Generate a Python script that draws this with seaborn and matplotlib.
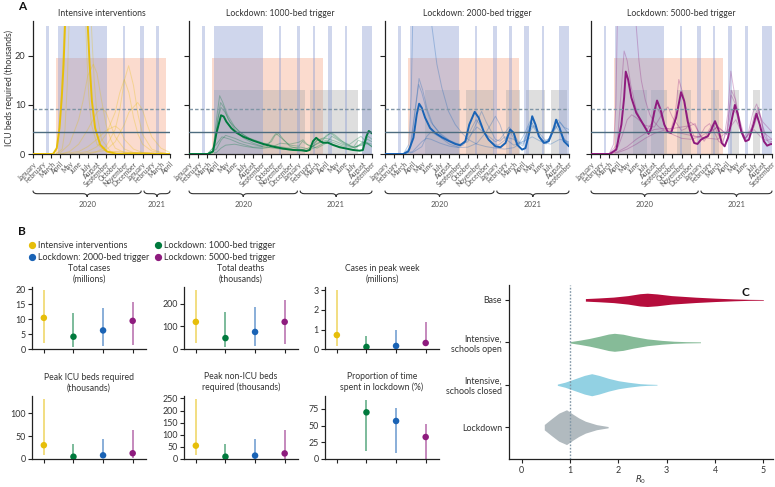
import numpy as np
import pandas as pd
import matplotlib
matplotlib.use("Agg")
import matplotlib.pyplot as plt
import matplotlib.transforms as mtransforms
from matplotlib.path import Path
from matplotlib.patches import PathPatch
from matplotlib.lines import Line2D
import seaborn as sns

sns.set_theme(style="ticks")
plt.rcParams['font.family'] = ['Lato', 'DejaVu Sans']
plt.rcParams['axes.linewidth'] = 0.9

# ------------------------------------------------------------------ DATA
MONTHS = ["January", "February", "March", "April", "May", "June", "July", "August",
          "September", "October", "November", "December"]
months_short_panel = MONTHS + MONTHS[:4]      # Jan 2020 - Apr 2021
months_long_panel = MONTHS + MONTHS[:9]       # Jan 2020 - Sep 2021

panel_titles = ["Intensive interventions", "Lockdown: 1000-bed trigger",
                "Lockdown: 2000-bed trigger", "Lockdown: 5000-bed trigger"]
scenario_colors = ["#e6be0a", "#007a3d", "#1a63b5", "#8e1b7e"]

# school holidays (months since Jan 2020)
holiday_start = [1.45, 2.7, 9.8, 11.75, 13.5, 15.15, 17.05, 18.95]
holiday_end = [1.7, 8.05, 10.05, 12.15, 13.75, 15.6, 17.3, 20.0]
holiday_height = 26.2
# social distancing period
distancing_start, distancing_end, distancing_height = 2.5, 14.6, 19.6
# lockdown periods per panel
lockdown_periods = [
    [],
    [(2.7, 12.68), (13.25, 18.45), (18.95, 20.0)],
    [(4.3, 8.1), (8.8, 11.9), (13.1, 14.65), (15.35, 17.35), (18.05, 19.75)],
    [(4.65, 6.2), (6.65, 8.35), (9.5, 11.0), (13.3, 14.15), (15.4, 16.3), (17.9, 18.65)],
]
lockdown_height = 12.95
icu_capacity_dashed = 9.1
icu_capacity_solid = 4.45

# bold (median) trajectories, ICU beds (thousands)
ii_bold_m = [0, 2.2, 2.6, 2.9, 3.15, 3.35, 3.5, 3.7, 4.0, 4.5, 5.0, 5.5, 5.8, 6.0, 6.2, 6.45, 6.8, 7.35, 8.1, 9.2, 15]
ii_bold_v = [0, 0, 1.2, 5.3, 11.5, 18.3, 26, 38, 55, 70, 66, 45, 32, 26, 18.3, 10.8, 5.3, 1.9, 0.5, 0, 0]

l1_bold_m = [0, 2.08, 2.62, 2.99, 3.28, 3.5, 3.79, 4.08, 4.63, 5.17, 5.9, 7.0, 8.09, 9.18, 10.27, 11.37,
             12.28, 12.82, 13.19, 13.55, 13.9, 14.28, 14.64, 15.2, 15.74, 16.47, 17.2, 17.92, 18.65, 19.0,
             19.38, 19.65, 20]
l1_bold_v = [0, 0, 0.5, 4.2, 6.3, 7.9, 7.65, 6.6, 5.26, 4.37, 3.55, 2.73, 2.05, 1.5, 1.1, 0.82,
             0.75, 0.6, 0.82, 2.6, 3.3, 2.7, 2.3, 2.3, 1.84, 1.37, 1.1, 0.82, 0.68, 0.8,
             3.55, 4.7, 4.2]

l2_bold_m = [0, 2.0, 2.55, 3.09, 3.45, 3.71, 4.0, 4.36, 4.9, 5.45, 6.18, 6.9, 7.64, 8.18, 8.73, 9.16, 9.75,
             10.18, 10.73, 11.27, 12.0, 12.55, 13.1, 13.6, 14.0, 14.36, 14.9, 15.27, 15.64, 16.0, 16.36,
             16.73, 17.27, 17.8, 18.36, 18.6, 18.98, 19.45, 20]
l2_bold_v = [0, 0, 0.55, 3.3, 8.06, 10.25, 9.4, 7.4, 5.3, 4.3, 3.4, 2.7, 2.05, 1.78, 2.6, 6.0, 8.6,
             7.4, 4.6, 2.9, 1.57, 1.37, 2.25, 5.0, 4.3, 1.9, 0.9, 1.2, 4.0, 7.7, 6.0,
             3.6, 2.25, 2.6, 5.3, 7.0, 5.3, 2.6, 1.57]

l5_bold_m = [0, 2.08, 2.8, 3.36, 3.66, 3.84, 4.1, 4.46, 5.0, 5.56, 6.1, 6.36, 6.65, 7.0, 7.3, 7.68, 8.1,
             8.48, 8.85, 9.4, 9.95, 10.3, 10.68, 11.04, 11.4, 11.77, 12.14, 12.5, 12.9, 13.3, 13.7, 14.08,
             14.44, 14.77, 15.14, 15.6, 15.9, 16.23, 16.6, 17.07, 17.44, 17.9, 18.28, 18.65, 19.1, 19.46,
             19.9, 20]
l5_bold_v = [0, 0, 0.9, 6.0, 11.5, 16.8, 15.2, 11.5, 8.4, 6.7, 5.0, 4.1, 5.3, 8.7, 10.9, 9.1, 6.0,
             4.5, 4.3, 7.4, 12.6, 10.8, 6.7, 4.0, 2.25, 2.05, 2.9, 3.3, 3.6, 5.0, 6.7, 5.0,
             2.25, 1.57, 3.3, 7.4, 10.0, 8.06, 4.6, 2.6, 2.9, 5.7, 8.2, 6.0, 2.6, 1.7,
             2.05, 2.0]

# faint individual simulation trajectories (month, value)
ii_thin = [
    ([2, 3, 4, 5, 5.5, 6, 6.6, 7, 7.5, 8, 8.5, 9, 10, 15], [0, 0.3, 2, 7, 11, 16, 18.3, 16.5, 11, 6, 3, 1.2, 0.3, 0]),
    ([5, 7, 8, 9, 9.5, 10, 10.47, 11, 11.5, 12, 13, 14, 15], [0, 0.5, 1.5, 5, 9, 15, 18, 14, 8, 4, 1, 0.3, 0]),
    ([4, 6, 7, 8, 9, 9.5, 10, 10.5, 11, 11.5, 12, 13, 15], [0, 0.5, 1.5, 4, 8.5, 12.5, 15.2, 12.5, 7.5, 4, 2, 0.6, 0]),
    ([6, 8, 9, 10, 10.5, 11.46, 12, 12.5, 13, 14, 15], [0, 0.8, 2.5, 6, 8.5, 10.5, 9, 6, 3.5, 1.2, 0.3]),
    ([3, 5, 6, 7, 8, 9, 9.5, 10, 11, 12, 15], [0, 0.5, 1.5, 3, 4.8, 5.7, 5, 3, 1, 0.3, 0]),
    ([3, 4, 5, 6, 7, 7.55, 8, 8.5, 9, 10, 11, 15], [0, 0.5, 2, 5, 8.5, 9.4, 8.5, 6, 3.5, 1, 0.3, 0]),
    ([2, 2.5, 2.8, 3.0, 3.2, 3.5, 4, 5, 5.5, 5.75, 5.9, 6.1, 6.4, 7, 8, 15],
     [0, 0.5, 3, 8, 16, 30, 55, 60, 40, 28, 20, 12, 6, 2, 0.5, 0]),
    ([2.5, 3.2, 3.5, 3.75, 3.9, 4.2, 5, 6, 6.3, 6.5, 6.7, 7.0, 7.5, 8.5, 15],
     [0, 1, 5, 14, 24, 40, 60, 45, 30, 22, 15, 8, 3, 0.5, 0]),
]
l1_thin = [
    ([2, 2.6, 3.0, 3.35, 3.7, 4.2, 5, 6, 7, 8, 9, 10, 11, 12, 13, 14, 15, 16, 17, 18, 19, 20],
     [0, 0.6, 7, 11.9, 10.5, 8, 5.5, 3.8, 2.8, 2.1, 1.6, 1.3, 1.0, 0.8, 0.7, 1.5, 2.5, 1.8, 1.2, 0.9, 2.5, 2.0]),
    ([2, 2.7, 3.1, 3.45, 3.8, 4.3, 5, 6, 7, 8, 9, 9.4, 9.8, 10.3, 11, 12, 13, 13.5, 14, 15, 15.5, 16, 17, 18, 19, 19.5, 20],
     [0, 0.8, 6.5, 10.5, 9.5, 7, 5, 3.2, 2.2, 1.6, 2.5, 3.8, 4.2, 3.0, 1.6, 1.0, 0.8, 1.5, 2.8, 3.5, 4.4, 3.8, 2.2, 1.3, 2.2, 3.0, 2.5]),
    ([2, 3, 3.5, 4, 5, 6, 7, 8, 9, 10, 11, 12, 12.46, 13, 14, 15, 15.6, 16, 17, 18, 18.5, 19, 20],
     [0, 0.3, 1.2, 1.8, 2, 1.6, 1.3, 1.1, 1.4, 2.2, 2.0, 2.4, 2.9, 1.8, 1.2, 2.2, 3.6, 3.2, 2.0, 1.5, 2.8, 2.4, 1.6]),
    ([2, 3, 3.6, 4.5, 5.5, 7, 8.5, 9.2, 9.5, 10, 11, 12, 12.4, 12.8, 13.5, 14.5, 15, 15.5, 16.5, 17.5, 18.3, 18.8, 19.5, 20],
     [0, 2, 3.5, 3.0, 2.2, 1.4, 1.4, 3.5, 4.2, 3.4, 1.8, 1.6, 2.6, 2.0, 1.6, 2.5, 3.8, 4.2, 2.8, 1.9, 3.0, 3.6, 2.2, 1.5]),
    ([2, 3, 3.5, 4, 5, 6, 8, 10, 12, 13, 14, 15, 16, 17, 18, 19, 19.5, 20],
     [0, 1, 2.8, 3.8, 3.2, 2.4, 1.5, 1.0, 0.7, 1.2, 2.8, 3.2, 2.6, 1.8, 1.4, 1.8, 2.2, 1.4]),
    ([2, 2.8, 3.2, 3.5, 3.9, 4.5, 5.5, 6.5, 8, 9.5, 11, 12.2, 13.2, 14, 15, 16, 17, 18, 19, 19.6, 20],
     [0, 1.5, 7.5, 9.5, 8.6, 6.5, 4.5, 3.3, 2.3, 1.6, 1.2, 1.4, 1.0, 2.2, 2.8, 2.2, 1.5, 1.3, 2.0, 3.6, 3.0]),
]
l2_thin = [
    ([2, 2.6, 2.85, 3.0, 3.3, 4, 5, 5.1, 5.64, 6.18, 6.9, 7.64, 8.36, 9.1, 10, 11, 12, 13, 14, 15, 16, 17, 18, 19, 20],
     [0, 2, 12, 26, 40, 50, 35, 26, 18.3, 13.5, 8.7, 6, 4.3, 2.9, 2.0, 1.5, 1.2, 1.0, 1.3, 2.5, 3.5, 2.5, 2.0, 3.0, 2.5]),
    ([2, 2.7, 3.2, 3.7, 4.1, 4.6, 5.2, 6, 7, 8, 8.6, 9.2, 9.9, 10.5, 11, 11.6, 12.3, 13, 13.6, 14.2, 15, 15.6, 16.2,
      16.8, 17.5, 18.2, 18.8, 19.4, 20],
     [0, 1, 8, 15.4, 13, 9, 6, 4.2, 2.8, 2.0, 2.2, 4.5, 7.0, 5.5, 3.5, 2.2, 1.8, 2.8, 4.5, 2.6, 1.6, 5.5, 6.5,
      3.5, 2.0, 4.5, 6.0, 3.2, 2.0]),
    ([2, 2.8, 3.3, 3.65, 4, 4.5, 5, 6, 7, 8, 9, 10, 10.5, 11, 12, 12.5, 13, 14, 14.5, 15, 15.8, 16.4, 17, 17.8, 18.4,
      19, 19.6, 20],
     [0, 1.5, 9, 14.2, 12.5, 9, 6.5, 4, 2.6, 1.8, 2.5, 6.5, 8.7, 6.5, 3, 2.6, 3.5, 3.0, 2.0, 3.5, 6.8, 5.0, 2.6, 3.0, 6.0,
      4.5, 2.8, 2.2]),
    ([2, 3, 3.5, 4, 4.5, 5, 6, 7, 8, 9, 10, 11, 11.5, 12, 12.5, 13, 14, 15, 15.5, 16, 17, 17.5, 18, 19, 20],
     [0, 0.5, 1.5, 2.5, 3.2, 3.0, 2.2, 1.6, 1.3, 1.4, 2.2, 4.5, 6.0, 7.7, 6.0, 3.2, 1.8, 2.6, 4.5, 5.8, 3.0, 2.2, 3.6, 6.5, 4.0]),
    ([2, 3, 4, 4.5, 5, 6, 7, 8, 8.5, 9, 10, 11, 12, 12.5, 13.5, 14.5, 15, 15.5, 16.2, 16.8, 17.5, 18, 18.8, 19.5, 20],
     [0, 0.3, 1.5, 3.5, 4.5, 3.4, 2.0, 1.4, 1.8, 3.2, 5.5, 4.0, 2.5, 3.0, 5.5, 2.5, 2.0, 4.0, 5.8, 4.2, 2.6, 3.4, 7.0, 5.4, 5.0]),
]
l5_thin = [
    ([2, 2.5, 2.75, 2.9, 3.2, 4, 4.8, 5.0, 5.3, 5.56, 6, 6.5, 7, 7.5, 8, 9, 10, 11, 12, 13, 14, 15, 16, 17, 18, 19, 20],
     [0, 2, 10, 26, 40, 50, 35, 26, 19, 15, 11, 8, 6.5, 5.5, 5, 4.5, 4.2, 3.8, 3.5, 3.2, 3.0, 4.5, 7, 3, 5, 3, 2.5]),
    ([2, 2.9, 3.3, 3.66, 4.0, 4.4, 5, 5.6, 6.2, 6.8, 7.2, 7.6, 8.2, 8.8, 9.3, 9.7, 10.2, 10.8, 11.4, 12, 12.6, 13.1,
      13.6, 14.1, 14.6, 15.1, 15.45, 15.8, 16.3, 16.8, 17.4, 17.9, 18.3, 18.7, 19.2, 19.7, 20],
     [0, 2, 12, 21, 19, 14, 9, 6.5, 5, 6.5, 9.5, 8.5, 5.5, 4.8, 8, 15.2, 12, 6.5, 3.5, 3.5, 5.5, 6.2,
      4.5, 2.6, 2.0, 8, 16.9, 13, 6.5, 3.4, 4.5, 8.5, 10.2, 8, 3.5, 2.2, 2.5]),
    ([2, 3, 3.5, 4, 4.5, 5, 6, 7, 8, 8.5, 9, 10, 10.5, 11, 11.5, 12, 12.5, 13, 13.5, 14, 14.5, 15, 15.5, 16, 16.5, 17,
      17.5, 18, 18.5, 19, 19.5, 20],
     [0, 1.5, 4, 7, 8, 7.4, 5.8, 5.5, 8.6, 9.6, 7.5, 4.8, 5.2, 6.5, 5.8, 4.0, 3.0, 4.8, 6.2, 4.2, 2.4, 4.5, 13, 11, 5.5, 3.2,
      4.2, 7.5, 9.5, 5.5, 3.0, 3.0]),
    ([2, 3, 4, 5, 6, 7, 8, 9, 10, 11, 11.5, 12, 12.5, 13, 14, 15, 15.5, 16, 17, 18, 18.5, 19, 20],
     [0, 0.5, 1.5, 3, 4.2, 5.0, 5.2, 5.2, 5.5, 5.8, 6.2, 4.0, 2.6, 4, 5.6, 4.0, 9, 8.5, 3.0, 6, 9, 4.5, 3.0]),
    ([2, 3, 4, 5, 6, 7, 8, 9, 10, 11, 12, 13, 14, 15, 15.5, 16, 17, 18, 18.5, 19, 20],
     [0, 0.3, 1, 2, 3.2, 4.2, 4.8, 4.0, 3.2, 3, 3.5, 4.5, 5.5, 4.0, 12, 10, 3.2, 5.5, 8.5, 6.5, 4.5]),
]

# Panel B summary (median, low, high) per scenario
scenario_labels = ["Intensive interventions", "Lockdown: 1000-bed trigger",
                   "Lockdown: 2000-bed trigger", "Lockdown: 5000-bed trigger"]
metric_titles = ["Total cases\n(millions)", "Total deaths\n(thousands)", "Cases in peak week\n(millions)",
                 "Peak ICU beds required\n(thousands)", "Peak non-ICU beds\nrequired (thousands)",
                 "Proportion of time\nspent in lockdown (%)"]
cases_med = [10.5, 4.2, 6.3, 9.5]
cases_lo = [2.0, 0.7, 1.1, 1.4]
cases_hi = [19.8, 12.0, 13.7, 15.8]
deaths_med = [120, 49, 76, 120]
deaths_lo = [26, 9, 13, 22]
deaths_hi = [260, 162, 187, 216]
peakweek_med = [0.72, 0.12, 0.17, 0.32]
peakweek_lo = [0.17, 0.0, 0.0, 0.17]
peakweek_hi = [3.0, 0.68, 0.98, 1.4]
icu_med = [30, 5, 8, 12.5]
icu_lo = [8.5, 0.5, 1.5, 2]
icu_hi = [130, 32.5, 43.5, 63]
nonicu_med = [55, 9.6, 14, 23]
nonicu_lo = [16, 0.5, 1, 2]
nonicu_hi = [246, 60, 82, 118]
lockdown_med = [np.nan, 70, 57, 33]
lockdown_lo = [np.nan, 12.5, 9.5, 0]
lockdown_hi = [np.nan, 89, 77, 52]
metric_ylims = [(0, 20.9), (0, 274), (0, 3.17), (0, 137), (0, 260), (0, 94.5)]
metric_yticks = [[0, 5, 10, 15, 20], [0, 100, 200], [0, 1, 2, 3], [0, 50, 100],
                 [0, 50, 100, 150, 200, 250], [0, 25, 50, 75]]

# Panel C: R0 violin outlines (R0 grid, half-width)
violin_labels = ["Base", "Intensive,\nschools open", "Intensive,\nschools closed", "Lockdown"]
violin_colors = ["#b50d3c", "#86bb98", "#92d1e3", "#b1babf"]
base_r = [1.32, 1.6, 1.9, 2.2, 2.45, 2.6, 2.8, 3.1, 3.6, 4.0, 4.4, 4.7, 5.0]
base_w = [0.03, 0.045, 0.065, 0.1, 0.145, 0.157, 0.14, 0.1, 0.063, 0.04, 0.022, 0.012, 0.008]
open_r = [1.0, 1.2, 1.4, 1.6, 1.8, 1.92, 2.1, 2.3, 2.6, 2.9, 3.15, 3.4, 3.7]
open_w = [0.015, 0.05, 0.09, 0.14, 0.195, 0.212, 0.19, 0.14, 0.08, 0.045, 0.025, 0.015, 0.01]
closed_r = [0.74, 0.9, 1.1, 1.3, 1.45, 1.6, 1.8, 2.0, 2.2, 2.45, 2.6, 2.8]
closed_w = [0.015, 0.06, 0.14, 0.22, 0.26, 0.22, 0.15, 0.095, 0.06, 0.025, 0.015, 0.008]
lock_r = [0.47, 0.62, 0.77, 0.93, 1.05, 1.18, 1.32, 1.55, 1.79]
lock_w = [0.063, 0.2, 0.33, 0.41, 0.315, 0.22, 0.14, 0.06, 0.015]

# ------------------------------------------------------------------ FIGURE
W, H = 775, 487
fig = plt.figure(figsize=(W / 100, H / 100), dpi=100)
TXT = "#333333"
SPINE = "#222222"


def add_ax(x0, y0, x1, y1):
    return fig.add_axes([x0 / W, 1 - y1 / H, (x1 - x0) / W, (y1 - y0) / H])


def brace(ax, x0, x1, y, h, d, label):
    trans = mtransforms.blended_transform_factory(ax.transData, ax.transAxes)
    xm = (x0 + x1) / 2
    verts = [(x0, y + h), (x0, y), (x0 + d, y), (xm - d, y), (xm, y), (xm, y - h),
             (xm, y), (xm + d, y), (x1 - d, y), (x1, y), (x1, y + h)]
    codes = [Path.MOVETO, Path.CURVE3, Path.CURVE3, Path.LINETO, Path.CURVE3, Path.CURVE3,
             Path.CURVE3, Path.CURVE3, Path.LINETO, Path.CURVE3, Path.CURVE3]
    ax.add_patch(PathPatch(Path(verts, codes), fill=False, lw=0.8, ec="#333333",
                           transform=trans, clip_on=False))
    ax.text(xm, y - 0.085, label, transform=trans, ha="center", va="center",
            fontsize=5.6, color="#555555")


# ---------------- Panel A
a_boxes = [(33, 26, 170, 154), (189, 26, 372, 154), (385, 26, 569, 154), (591, 26, 772, 154)]
bold_m = [ii_bold_m, l1_bold_m, l2_bold_m, l5_bold_m]
bold_v = [ii_bold_v, l1_bold_v, l2_bold_v, l5_bold_v]
thin_sets = [ii_thin, l1_thin, l2_thin, l5_thin]
for i in range(4):
    ax = add_ax(*a_boxes[i])
    labels = months_short_panel if i == 0 else months_long_panel
    nmax = len(labels) - 1
    ax.set_xlim(0, nmax)
    ax.set_ylim(0, 26.1)
    # shading
    ax.axvspan(distancing_start, distancing_end, ymin=0, ymax=distancing_height / 26.1,
               color="#f7a585", alpha=0.4, lw=0, zorder=0)
    for s, e in lockdown_periods[i]:
        ax.axvspan(s, e, ymin=0, ymax=lockdown_height / 26.1, color="#a3a3a3", alpha=0.35, lw=0, zorder=0.5)
    for s, e in zip(holiday_start, holiday_end):
        ax.axvspan(s, e, ymin=0, ymax=holiday_height / 26.1, color="#8e9fd3", alpha=0.42, lw=0, zorder=0.6)
    # thin trajectories
    for mm, vv in thin_sets[i]:
        sns.lineplot(x=mm, y=vv, ax=ax, color=scenario_colors[i], lw=0.7, alpha=0.3,
                     errorbar=None, zorder=2)
    sns.lineplot(x=bold_m[i], y=bold_v[i], ax=ax, color=scenario_colors[i], lw=1.4,
                 errorbar=None, zorder=3)
    ax.axhline(icu_capacity_dashed, color="#7f95a5", lw=1.0, ls=(0, (2.5, 1.5)), zorder=4)
    ax.axhline(icu_capacity_solid, color="#4d6c7f", lw=1.0, zorder=4)
    sns.despine(ax=ax)
    ax.spines['left'].set_bounds(0, 27.2)
    ax.spines['left'].set_color(SPINE)
    ax.spines['bottom'].set_color(SPINE)
    ax.set_xticks(range(len(labels)))
    ax.set_xticklabels(labels, rotation=45, ha="right", rotation_mode="anchor",
                       fontsize=4.9, color="#555555")
    ax.set_yticks([0, 10, 20])
    ax.tick_params(axis="x", length=3, width=0.8, pad=1.5, color=SPINE)
    ax.tick_params(axis="y", length=3.5, width=0.8, pad=2, color=SPINE, labelsize=6.6, labelcolor=TXT)
    if i > 0:
        ax.set_yticklabels([])
    ax.set_ylabel("")
    ax.set_title(panel_titles[i], fontsize=6.2, color=TXT, pad=7)
    ax.set_xlabel("")
    brace(ax, 0, 11.85, -0.31, 0.024, 0.45, "2020")
    brace(ax, 12.15, nmax, -0.31, 0.024, 0.45, "2021")

fig.text(9 / W, 1 - 88 / H, "ICU beds required (thousands)", rotation=90, ha="center", va="center",
         fontsize=6.3, color=TXT)

# ---------------- Panel B
b_lefts = [32, 184, 325]
b_rows = [(286.7, 349.3), (396, 459)]
meds = [cases_med, deaths_med, peakweek_med, icu_med, nonicu_med, lockdown_med]
los = [cases_lo, deaths_lo, peakweek_lo, icu_lo, nonicu_lo, lockdown_lo]
his = [cases_hi, deaths_hi, peakweek_hi, icu_hi, nonicu_hi, lockdown_hi]
for k in range(6):
    r, c = divmod(k, 3)
    x0 = b_lefts[c]
    ax = add_ax(x0, b_rows[r][0], x0 + 114, b_rows[r][1])
    df = pd.DataFrame({"idx": range(4), "med": meds[k], "lo": los[k], "hi": his[k],
                       "scenario": scenario_labels})
    df = df.dropna()
    ax.vlines(df["idx"], df["lo"], df["hi"], colors=[scenario_colors[j] for j in df["idx"]],
              lw=1.2, alpha=0.6, zorder=2)
    sns.scatterplot(data=df, x="idx", y="med", hue="scenario", hue_order=scenario_labels,
                    palette=scenario_colors, s=22, edgecolor="none", legend=False, ax=ax, zorder=3)
    ax.set_xlim(-0.4, 3.45)
    ax.set_ylim(*metric_ylims[k])
    ax.set_yticks(metric_yticks[k])
    ax.set_xticks(range(4))
    ax.set_xticklabels([])
    ax.set_xlabel("")
    ax.set_ylabel("")
    sns.despine(ax=ax)
    for sp in ("left", "bottom"):
        ax.spines[sp].set_color(SPINE)
    ax.tick_params(axis="both", length=3, width=0.8, color=SPINE, labelsize=6.4, labelcolor=TXT, pad=1.5)
    ax.set_title(metric_titles[k], fontsize=6.2, color=TXT, pad=4, linespacing=1.2)

handles = [Line2D([], [], marker="o", ls="", color=scenario_colors[j], markersize=4.2) for j in range(4)]
order = [0, 2, 1, 3]
fig.legend([handles[j] for j in order], [scenario_labels[j] for j in order], loc="upper left",
           bbox_to_anchor=(27 / W, 1 - 241 / H), ncol=2, frameon=False, fontsize=6.4,
           handletextpad=0.05, columnspacing=0.35, labelspacing=0.3, handlelength=1.2,
           borderaxespad=0, borderpad=0, labelcolor=TXT)

# ---------------- Panel C
axc = add_ax(509, 285, 773, 459)
shapes = [(base_r, base_w), (open_r, open_w), (closed_r, closed_w), (lock_r, lock_w)]
for j, (rr, ww) in enumerate(shapes):
    rr = np.array(rr)
    ww = np.array(ww)
    axc.fill_between(rr, j - ww, j + ww, color=violin_colors[j], lw=0, zorder=2)
axc.axvline(1, color="#7f95a5", lw=1.0, ls=(0, (1.2, 1.2)), zorder=3)
axc.set_xlim(-0.26, 5.2)
axc.set_ylim(3.75, -0.35)
axc.set_yticks(range(4))
axc.set_yticklabels(violin_labels, fontsize=6.4, color=TXT, linespacing=1.25)
axc.set_xticks(range(6))
axc.tick_params(axis="both", length=3, width=0.8, color=SPINE, labelsize=6.4, labelcolor=TXT, pad=2)
axc.set_xlabel("$R_0$", fontsize=6.2, color=TXT, va="center")
axc.xaxis.set_label_coords(0.5, -0.118)
sns.despine(ax=axc)
for sp in ("left", "bottom"):
    axc.spines[sp].set_color(SPINE)

# panel letters
fig.text(18 / W, 1 - 1 / H, "A", fontsize=8.5, fontweight="bold", va="top", ha="left", color="#111111")
fig.text(18 / W, 1 - 226 / H, "B", fontsize=8.5, fontweight="bold", va="top", ha="left", color="#111111")
fig.text(741 / W, 1 - 287 / H, "C", fontsize=8.5, fontweight="bold", va="top", ha="left", color="#111111")

fig.savefig("out.png", dpi=100)
